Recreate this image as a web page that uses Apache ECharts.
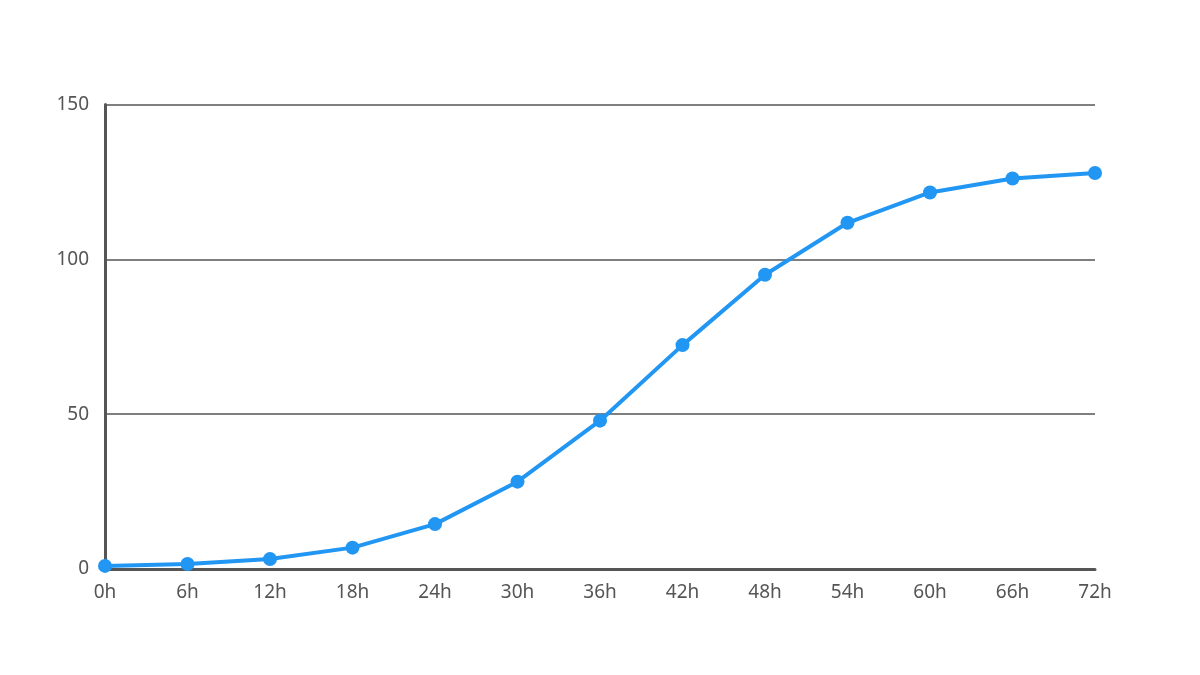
<!DOCTYPE html>
<html>
<head>
<meta charset="utf-8">
<script src="https://cdn.jsdelivr.net/npm/echarts@6/dist/echarts.min.js"></script>
<style>html,body{margin:0;padding:0;background:#fff}#c{width:1200px;height:675px}</style>
</head>
<body>
<div id="c"></div>
<script>
var categories = ['0h','6h','12h','18h','24h','30h','36h','42h','48h','54h','60h','66h','72h'];
var values = [1.0, 1.6, 3.2, 6.9, 14.5, 28.2, 47.9, 72.3, 95.0, 111.8, 121.6, 126.1, 127.9];
var yTicks = [0, 50, 100, 150];

var chart = echarts.init(document.getElementById('c'));
chart.setOption({
  animation: false,
  grid: {left: 105, right: 105, top: 104.5, bottom: 106},
  xAxis: {
    type: 'category',
    data: categories,
    boundaryGap: false,
    axisLine: {lineStyle: {color: '#555', width: 3}},
    axisTick: {show: false},
    axisLabel: {color: '#555', fontSize: 19, fontFamily: 'Noto Sans', margin: 14}
  },
  yAxis: {
    type: 'value',
    min: yTicks[0], max: yTicks[yTicks.length-1], interval: 50,
    axisLine: {show: true, lineStyle: {color: '#555', width: 3}},
    axisTick: {show: false},
    splitLine: {lineStyle: {color: '#555', width: 1.5}},
    axisLabel: {color: '#555', fontSize: 19, fontFamily: 'Noto Sans', margin: 16}
  },
  series: [{
    type: 'line',
    data: values,
    symbol: 'circle',
    symbolSize: 14,
    lineStyle: {color: '#2196F3', width: 4},
    itemStyle: {color: '#2196F3'}
  }]
});
</script>
</body>
</html>
